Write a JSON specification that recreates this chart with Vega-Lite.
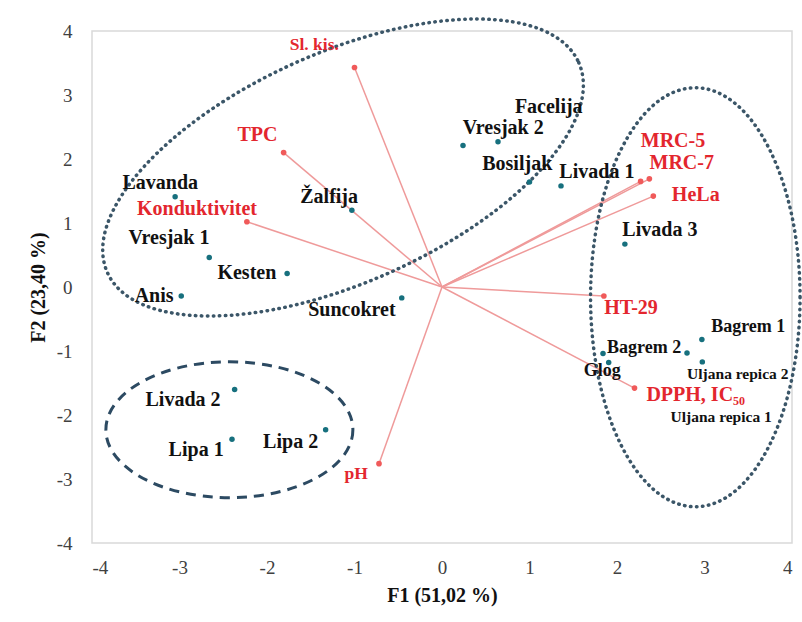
{
  "$schema": "https://vega.github.io/schema/vega-lite/v6.json",
  "width": 700,
  "height": 512,
  "autosize": {"type": "none"},
  "padding": {"left": 92, "top": 31, "right": 10, "bottom": 79},
  "background": "white",
  "config": {
    "view": {"stroke": "#d9d9d9", "strokeWidth": 1.5},
    "font": "Liberation Serif"
  },
  "datasets": {
    "samples": [
      {"name": "Lavanda", "x": -3.05, "y": 1.41, "lx": -3.22, "ly": 1.63, "grp": "a"},
      {"name": "Vresjak 1", "x": -2.66, "y": 0.46, "lx": -3.12, "ly": 0.77, "grp": "a"},
      {"name": "Anis", "x": -2.98, "y": -0.14, "lx": -3.29, "ly": -0.14, "grp": "a"},
      {"name": "Kesten", "x": -1.77, "y": 0.21, "lx": -2.23, "ly": 0.22, "grp": "a"},
      {"name": "Žalfija", "x": -1.03, "y": 1.2, "lx": -1.29, "ly": 1.41, "grp": "a"},
      {"name": "Suncokret", "x": -0.46, "y": -0.17, "lx": -1.03, "ly": -0.36, "grp": "a"},
      {"name": "Vresjak 2", "x": 0.24, "y": 2.21, "lx": 0.7, "ly": 2.48, "grp": "a"},
      {"name": "Facelija", "x": 0.64, "y": 2.27, "lx": 1.22, "ly": 2.81, "grp": "a"},
      {"name": "Bosiljak", "x": 1.0, "y": 1.64, "lx": 0.86, "ly": 1.92, "grp": "a"},
      {"name": "Livada 1", "x": 1.36, "y": 1.58, "lx": 1.77, "ly": 1.8, "grp": "a"},
      {"name": "Livada 3", "x": 2.09, "y": 0.67, "lx": 2.49, "ly": 0.89, "grp": "a"},
      {"name": "Bagrem 1", "x": 2.97, "y": -0.82, "lx": 3.5, "ly": -0.63, "grp": "b"},
      {"name": "Bagrem 2", "x": 2.8, "y": -1.03, "lx": 2.31, "ly": -0.95, "grp": "b"},
      {"name": "Uljana repica 2", "x": 2.975, "y": -1.17, "lx": 3.38, "ly": -1.36, "grp": "c"},
      {"name": "Glog", "x": 1.84, "y": -1.04, "lx": 1.83, "ly": -1.31, "grp": "b"},
      {"name": "Uljana repica 1", "x": 1.905, "y": -1.18, "lx": 3.19, "ly": -2.03, "grp": "c"},
      {"name": "Livada 2", "x": -2.37, "y": -1.6, "lx": -2.96, "ly": -1.77, "grp": "a"},
      {"name": "Lipa 1", "x": -2.4, "y": -2.38, "lx": -2.81, "ly": -2.55, "grp": "a"},
      {"name": "Lipa 2", "x": -1.33, "y": -2.23, "lx": -1.73, "ly": -2.42, "grp": "a"}
    ],
    "variables": [
      {"name": "Sl. kis.", "x": -1.0, "y": 3.43, "lx": -1.46, "ly": 3.78, "grp": "s"},
      {"name": "TPC", "x": -1.81, "y": 2.1, "lx": -2.11, "ly": 2.38, "grp": "b"},
      {"name": "Konduktivitet", "x": -2.23, "y": 1.02, "lx": -2.8, "ly": 1.22, "grp": "b"},
      {"name": "MRC-5", "x": 2.27, "y": 1.65, "lx": 2.64, "ly": 2.28, "grp": "b"},
      {"name": "MRC-7", "x": 2.37, "y": 1.69, "lx": 2.74, "ly": 1.94, "grp": "b"},
      {"name": "HeLa", "x": 2.415, "y": 1.42, "lx": 2.9, "ly": 1.44, "grp": "b"},
      {"name": "HT-29", "x": 1.85, "y": -0.14, "lx": 2.16, "ly": -0.33, "grp": "b"},
      {"name": "DPPH, IC₅₀", "x": 2.2, "y": -1.58, "lx": 2.9, "ly": -1.69, "grp": "b"},
      {"name": "pH", "x": -0.72, "y": -2.76, "lx": -0.98, "ly": -2.92, "grp": "s"}
    ],
    "ellipses": [
      {"group": "upper", "x": -1.131, "y": 1.867},
      {"group": "right", "x": 2.895, "y": -0.16},
      {"group": "lower", "x": -2.43, "y": -2.23}
    ],
    "ticks": [
      {"t": -4}, {"t": -3}, {"t": -2}, {"t": -1}, {"t": 0}, {"t": 1}, {"t": 2}, {"t": 3}, {"t": 4}
    ]
  },
  "encoding": {
    "x": {
      "field": "x",
      "type": "quantitative",
      "scale": {"domain": [-4, 4], "nice": false, "zero": false},
      "axis": {
        "title": "F1 (51,02 %)",
        "values": [-4, -3, -2, -1, 0, 1, 2, 3, 4],
        "labelExpr": "toString(datum.value)",
        "grid": false, "domain": false, "ticks": false, "tickSize": 0,
        "labelFont": "Liberation Serif", "labelFontSize": 19, "labelColor": "#404040",
        "labelPadding": 15,
        "titleFont": "Liberation Serif", "titleFontSize": 20, "titleFontWeight": "bold", "titleColor": "#111111",
        "titlePadding": 8
      }
    },
    "y": {
      "field": "y",
      "type": "quantitative",
      "scale": {"domain": [-4, 4], "nice": false, "zero": false},
      "axis": {
        "title": "F2 (23,40 %)",
        "values": [-4, -3, -2, -1, 0, 1, 2, 3, 4],
        "labelExpr": "toString(datum.value)",
        "grid": false, "domain": false, "ticks": false, "tickSize": 0,
        "labelFont": "Liberation Serif", "labelFontSize": 19, "labelColor": "#404040",
        "labelPadding": 20,
        "titleFont": "Liberation Serif", "titleFontSize": 20, "titleFontWeight": "bold", "titleColor": "#111111",
        "titlePadding": 8
      }
    }
  },
  "layer": [
    {
      "data": {"values": [{"v": 0}]},
      "mark": {"type": "rule", "color": "#c4c4c4", "strokeWidth": 1.6},
      "encoding": {"x": {"datum": 0}, "y": {"datum": -4}, "y2": {"datum": 4}}
    },
    {
      "data": {"values": [{"v": 0}]},
      "mark": {"type": "rule", "color": "#c4c4c4", "strokeWidth": 1.6},
      "encoding": {"y": {"datum": 0}, "x": {"datum": -4}, "x2": {"datum": 4}}
    },
    {
      "data": {"name": "ticks"},
      "mark": {"type": "tick", "orient": "horizontal", "size": 9, "thickness": 1.5, "color": "#c4c4c4", "xOffset": -4.5, "opacity": 1},
      "encoding": {"x": {"datum": 0}, "y": {"field": "t", "type": "quantitative"}}
    },
    {
      "data": {"name": "variables"},
      "mark": {"type": "rule", "color": "#ef9a9a", "strokeWidth": 1.5},
      "encoding": {
        "x": {"datum": 0},
        "y": {"datum": 0},
        "x2": {"field": "x"},
        "y2": {"field": "y"}
      }
    },
    {
      "data": {"name": "ellipses"},
      "transform": [{"filter": "datum.group == 'upper'"}],
      "mark": {
        "type": "point",
        "shape": "M 1 0 C 1 0.2462 0.5523 0.4457 0 0.4457 C -0.5523 0.4457 -1 0.2462 -1 0 C -1 -0.2462 -0.5523 -0.4457 0 -0.4457 C 0.5523 -0.4457 1 -0.2462 1 0 Z",
        "size": 266256,
        "angle": -24,
        "filled": false,
        "stroke": "#3b5668",
        "strokeWidth": 3.5,
        "strokeDash": [0.5, 5.5],
        "strokeCap": "round",
        "opacity": 1
      }
    },
    {
      "data": {"name": "ellipses"},
      "transform": [{"filter": "datum.group == 'right'"}],
      "mark": {
        "type": "point",
        "shape": "M 0.5 0 C 0.5 0.5523 0.2762 1 0 1 C -0.2762 1 -0.5 0.5523 -0.5 0 C -0.5 -0.5523 -0.2762 -1 0 -1 C 0.2762 -1 0.5 -0.5523 0.5 0 Z",
        "size": 175561,
        "filled": false,
        "stroke": "#3b5668",
        "strokeWidth": 3.5,
        "strokeDash": [0.5, 5.5],
        "strokeCap": "round",
        "opacity": 1
      }
    },
    {
      "data": {"name": "ellipses"},
      "transform": [{"filter": "datum.group == 'lower'"}],
      "mark": {
        "type": "point",
        "shape": "M 1 0 C 1 0.3038 0.5523 0.55 0 0.55 C -0.5523 0.55 -1 0.3038 -1 0 C -1 -0.3038 -0.5523 -0.55 0 -0.55 C 0.5523 -0.55 1 -0.3038 1 0 Z",
        "size": 61009,
        "filled": false,
        "stroke": "#2c4a62",
        "strokeWidth": 3,
        "strokeDash": [10, 7],
        "opacity": 1
      }
    },
    {
      "data": {"name": "variables"},
      "mark": {"type": "circle", "color": "#f05a5a", "size": 32, "opacity": 1}
    },
    {
      "data": {"name": "samples"},
      "mark": {"type": "circle", "color": "#17707e", "size": 30, "opacity": 1}
    },
    {
      "data": {"name": "variables"},
      "transform": [{"filter": "datum.grp == 'b'"}],
      "mark": {"type": "text", "font": "Liberation Serif", "fontWeight": "bold", "fontSize": 20, "color": "#e3262e", "align": "center", "baseline": "middle"},
      "encoding": {"x": {"field": "lx", "type": "quantitative"}, "y": {"field": "ly", "type": "quantitative"}, "text": {"field": "name"}}
    },
    {
      "data": {"name": "variables"},
      "transform": [{"filter": "datum.grp == 's'"}],
      "mark": {"type": "text", "font": "Liberation Serif", "fontWeight": "bold", "fontSize": 17.5, "color": "#e3262e", "align": "center", "baseline": "middle"},
      "encoding": {"x": {"field": "lx", "type": "quantitative"}, "y": {"field": "ly", "type": "quantitative"}, "text": {"field": "name"}}
    },
    {
      "data": {"name": "samples"},
      "transform": [{"filter": "datum.grp == 'a'"}],
      "mark": {"type": "text", "font": "Liberation Serif", "fontWeight": "bold", "fontSize": 20, "color": "#111111", "align": "center", "baseline": "middle"},
      "encoding": {"x": {"field": "lx", "type": "quantitative"}, "y": {"field": "ly", "type": "quantitative"}, "text": {"field": "name"}}
    },
    {
      "data": {"name": "samples"},
      "transform": [{"filter": "datum.grp == 'b'"}],
      "mark": {"type": "text", "font": "Liberation Serif", "fontWeight": "bold", "fontSize": 18, "color": "#111111", "align": "center", "baseline": "middle"},
      "encoding": {"x": {"field": "lx", "type": "quantitative"}, "y": {"field": "ly", "type": "quantitative"}, "text": {"field": "name"}}
    },
    {
      "data": {"name": "samples"},
      "transform": [{"filter": "datum.grp == 'c'"}],
      "mark": {"type": "text", "font": "Liberation Serif", "fontWeight": "bold", "fontSize": 15.5, "color": "#111111", "align": "center", "baseline": "middle"},
      "encoding": {"x": {"field": "lx", "type": "quantitative"}, "y": {"field": "ly", "type": "quantitative"}, "text": {"field": "name"}}
    }
  ]
}
